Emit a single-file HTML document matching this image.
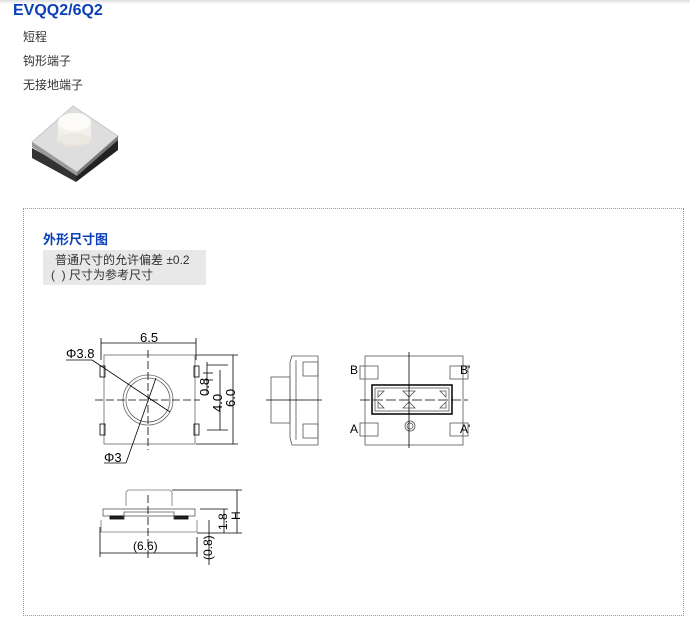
<!DOCTYPE html>
<html><head><meta charset="utf-8"><style>
body{margin:0;width:690px;height:618px;background:#fff;position:relative;overflow:hidden;font-family:"Liberation Sans","Noto Sans CJK SC",sans-serif;}
.topbar{position:absolute;left:0;top:0;width:690px;height:4px;background:linear-gradient(#ddd,#fff);}
.title{position:absolute;left:13px;top:2px;font-size:16px;font-weight:bold;color:#0b3fb5;}
.t{position:absolute;left:23px;font-size:12px;color:#333;}
.box{position:absolute;left:23px;top:208px;width:659px;height:406px;border:1px dotted #999;}
.h2{position:absolute;left:43px;top:229px;font-size:13px;font-weight:bold;color:#0b3fb5;}
.note{position:absolute;left:43px;top:250px;width:163px;height:35px;background:#e8e8e8;font-size:12px;color:#333;line-height:15px;padding-top:3px;box-sizing:border-box;}
svg{position:absolute;left:0;top:0;}
</style></head><body>
<div class="topbar"></div>
<div class="title">EVQQ2/6Q2</div>
<div class="t" style="top:28px">短程</div>
<div class="t" style="top:52px">钩形端子</div>
<div class="t" style="top:76px">无接地端子</div>
<div class="box"></div>
<div class="h2">外形尺寸图</div>
<div class="note"><div style="padding-left:12px">普通尺寸的允许偏差 ±0.2</div><div style="padding-left:8px">(&nbsp;&nbsp;) 尺寸为参考尺寸</div></div>
<svg width="690" height="618" viewBox="0 0 690 618" font-family="Liberation Sans, sans-serif" font-size="13" fill="none" stroke="#000" stroke-width="1">
<!-- product photo -->
<polygon points="32,148 76,172 76,182 32,158" fill="#333" stroke="none"/>
<polygon points="76,172 118,140 118,150 76,182" fill="#222" stroke="none"/>
<polygon points="32,142 73,106 118,136 77,172" fill="#dedede" stroke="#c8c8c8"/>
<polygon points="32,142 77,172 77,176 32,147" fill="#999" stroke="none"/>
<polygon points="77,172 118,136 118,140 77,176" fill="#777" stroke="none"/>
<ellipse cx="74" cy="139" rx="18" ry="8" fill="#e6e2da" stroke="none"/>
<rect x="58" y="122" width="33" height="17" fill="#f3f1ec" stroke="none"/>
<ellipse cx="74.5" cy="139" rx="16.5" ry="6" fill="#ece9e3" stroke="none"/>
<ellipse cx="74.5" cy="122" rx="16.5" ry="9" fill="#fcfbf8" stroke="none"/>
<!-- top view -->
<g stroke-width="0.8">
<line x1="101" y1="343" x2="196" y2="343"/><line x1="101" y1="338" x2="101" y2="360"/><line x1="196" y1="338" x2="196" y2="360"/>
<rect x="104" y="355" width="91" height="89" stroke="#666"/>
<rect x="100" y="366" width="5" height="11"/><rect x="100" y="424" width="5" height="11"/>
<rect x="194" y="366" width="5" height="11"/><rect x="194" y="424" width="5" height="11"/>
<circle cx="148" cy="400" r="25" stroke="#666"/><circle cx="148" cy="400" r="22" stroke="#666"/>
<line x1="148" y1="350" x2="148" y2="450" stroke-dasharray="8,3"/>
<line x1="95" y1="400" x2="200" y2="400" stroke-dasharray="8,3"/>
<line x1="66" y1="360" x2="92" y2="360"/><line x1="92" y1="360" x2="170" y2="412"/>
<line x1="104" y1="463" x2="126" y2="463"/><line x1="126" y1="463" x2="156" y2="378"/>
<line x1="196" y1="355" x2="238" y2="355"/><line x1="196" y1="444" x2="238" y2="444"/>
<line x1="233" y1="355" x2="233" y2="444"/>
<line x1="207" y1="365" x2="228" y2="365"/><line x1="207" y1="430" x2="228" y2="430"/>
<line x1="220" y1="370" x2="220" y2="430"/>
<line x1="207" y1="362" x2="207" y2="395"/><line x1="203" y1="373" x2="213" y2="373"/><line x1="203" y1="380" x2="213" y2="380"/>
</g>
<g fill="#000" stroke="none" font-size="13">
<text x="140" y="342">6.5</text>
<text x="66" y="358">Φ3.8</text>
<text x="104" y="462">Φ3</text>
<text transform="translate(209,396) rotate(-90)">0.8</text>
<text transform="translate(222,412) rotate(-90)">4.0</text>
<text transform="translate(235,407) rotate(-90)">6.0</text>
</g>
<!-- side view -->
<g stroke-width="0.8" stroke="#555">
<path d="M292,356 L318,356 L318,445 L292,445 L290,438 L290,362 Z"/>
<rect x="303" y="362" width="15" height="14"/><rect x="303" y="424" width="15" height="14"/>
<rect x="271" y="377" width="19" height="46"/>
<line x1="296" y1="360" x2="296" y2="440"/>
<line x1="266" y1="400" x2="322" y2="400" stroke="#000"/>
</g>
<!-- right view -->
<g stroke-width="0.8" stroke="#555">
<rect x="365" y="356" width="98" height="89"/>
<rect x="360" y="366" width="18" height="13"/><rect x="450" y="366" width="18" height="13"/>
<rect x="360" y="423" width="18" height="13"/><rect x="450" y="423" width="18" height="13"/>
<rect x="372" y="385" width="80" height="29" stroke="#000" stroke-width="1.5"/>
<rect x="375" y="388" width="74" height="23"/>
<path d="M378,391 l6,0 l-6,6 z M403,391 l12,0 l-6,6 z M446,391 l-6,0 l6,6 z M378,408 l6,0 l-6,-6 z M403,408 l12,0 l-6,-6 z M446,408 l-6,0 l6,-6 z"/>
<circle cx="410" cy="426" r="5"/><circle cx="410" cy="426" r="3"/>
<line x1="409" y1="352" x2="409" y2="448" stroke="#000"/>
<line x1="360" y1="400" x2="468" y2="400" stroke="#000" stroke-dasharray="10,3"/>
</g>
<g fill="#000" stroke="none" font-size="12">
<text x="350" y="374">B</text><text x="460" y="374">B'</text>
<text x="350" y="433">A</text><text x="460" y="433">A'</text>
</g>
<!-- bottom view -->
<g stroke-width="0.8">
<path d="M126,506 L126,492 L128,490 L170,490 L172,492 L172,506" stroke="#777"/>
<rect x="103" y="509" width="92" height="7" stroke="#555"/>
<rect x="110" y="516" width="14" height="3" fill="#222"/><rect x="174" y="516" width="14" height="3" fill="#222"/>
<path d="M124,519 L124,512 L174,512 L174,519" stroke="#555"/>
<path d="M101,520 L101,532 L197,532 L197,520" stroke="#777"/>
<line x1="148" y1="495" x2="148" y2="560" stroke-dasharray="8,3"/>
<line x1="172" y1="490" x2="242" y2="490"/><line x1="197" y1="533" x2="242" y2="533"/>
<line x1="237" y1="490" x2="237" y2="533"/>
<line x1="224" y1="509" x2="224" y2="533"/><line x1="200" y1="509" x2="228" y2="509"/>
<line x1="209" y1="520" x2="209" y2="565"/>
<line x1="100" y1="527" x2="100" y2="557"/><line x1="197" y1="537" x2="197" y2="557"/>
<line x1="100" y1="553" x2="197" y2="553"/>
</g>
<g fill="#000" stroke="none" font-size="12">
<text x="133" y="550">(6.6)</text>
<text transform="translate(240,520) rotate(-90)">H</text>
<text transform="translate(227,530) rotate(-90)">1.8</text>
<text transform="translate(212,560) rotate(-90)">(0.8)</text>
</g>
</svg>
</body></html>
